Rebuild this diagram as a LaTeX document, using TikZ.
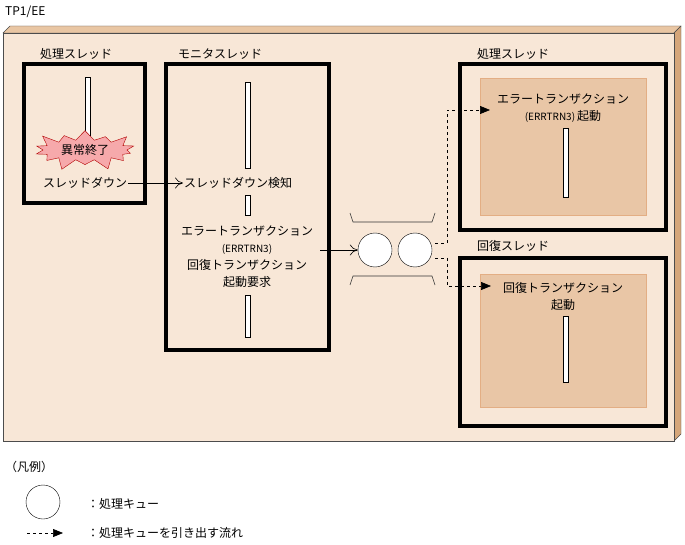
\documentclass[tikz,border=0pt]{standalone}
\usepackage{fontspec}
\setmainfont{Noto Sans CJK JP}
\usetikzlibrary{shapes.symbols,arrows.meta}
\definecolor{bgc}{HTML}{F8E7D7}
\definecolor{topc}{HTML}{E9C6A3}
\definecolor{sidec}{HTML}{D5A67A}
\definecolor{innerc}{HTML}{E9C6A6}
\definecolor{innerb}{HTML}{E3AE84}
\definecolor{burstc}{HTML}{F6A9AB}
\tikzset{
 thread/.style={draw=black,line width=3.2pt},
 bar/.style={draw=black,fill=white,line width=0.5pt},
 lbl/.style={font=\fontsize{12}{17}\selectfont,align=center,inner sep=1pt},
 openarr/.style={-{To[length=8pt,width=11pt]},line width=0.6pt},
 dasharr/.style={dashed,-{Triangle[length=10pt,width=8pt]},line width=0.7pt},
 queue/.style={circle,draw,fill=white,minimum size=34pt,inner sep=0pt}
}
\begin{document}
\begin{tikzpicture}[x=1pt,y=-1pt]
\useasboundingbox (0,0) rectangle (685,545);
\node[lbl,anchor=west] (tp) at (4,12) {TP1/EE};
% box
\draw[fill=topc,draw=black!70] (3,33)--(10,26)--(681,26)--(674,33)--cycle;
\draw[fill=sidec,draw=black!70] (674,33)--(681,26)--(681,434)--(674,441)--cycle;
\draw[fill=bgc,draw=black!70] (3,33) rectangle (674,441);
% thread boxes
\draw[thread] (24,64) rectangle (145,203);
\draw[thread] (166,64) rectangle (329,350);
\draw[thread] (460,64) rectangle (666,230);
\draw[thread] (460,258) rectangle (666,426);
\draw[fill=innerc,draw=innerb] (480,78) rectangle (646,215);
\draw[fill=innerc,draw=innerb] (480,274) rectangle (646,407);
\node[lbl] (t1) at (76,54) {処理スレッド};
\node[lbl] (t2) at (220,54) {モニタスレッド};
\node[lbl] (t3) at (513,54) {処理スレッド};
\node[lbl] (t4) at (513,246) {回復スレッド};
% bars
\draw[bar] (85,77) rectangle (90,135);
\draw[bar] (245,82) rectangle (250,168);
\draw[bar] (245,195) rectangle (250,215);
\draw[bar] (245,295) rectangle (250,337);
\draw[bar] (563,128) rectangle (568,197);
\draw[bar] (563,316) rectangle (568,382);
\node[starburst,starburst points=14,starburst point height=13pt,fill=burstc,draw=red!70!black,line width=0.4pt,minimum width=110pt,minimum height=46pt,inner sep=0pt] (burst) at (85,150) {};
\node[lbl] (ab) at (85,150) {異常終了};
\node[lbl] (down) at (85,183) {スレッドダウン};
\node[lbl,anchor=west] (det) at (183,183) {スレッドダウン検知};
\node[lbl] (req) at (247,257) {エラートランザクション\\{\fontsize{10}{17}\selectfont (ERRTRN3)}\\回復トランザクション\\起動要求};
\node[lbl] (err) at (563,108) {エラートランザクション\\{\fontsize{10}{17}\selectfont (ERRTRN3)}\,起動};
\node[lbl] (rec) at (563,296) {回復トランザクション\\起動};
% queue
\node[queue] (q1) at (375,250) {};
\node[queue] (q2) at (415,250) {};
\draw[line width=0.6pt,black!80] (350,213)--(353,222)--(432,222)--(435,213);
\draw[line width=0.6pt,black!80] (350,285)--(353,276)--(432,276)--(435,285);
\draw[openarr] (down.east) -- (det.west);
\coordinate (rq) at (320,250);
\draw[openarr] (rq) -- (q1.west);
\coordinate (d1) at (435,243);
\coordinate (d2) at (435,258);
\coordinate (e1) at (490,110);
\coordinate (e2) at (491,286);
\draw[dasharr] (d1) -- (447,243) |- (e1);
\draw[dasharr] (d2) -- (447,258) |- (e2);
% legend
\node[lbl,anchor=west] (leg) at (4,467) {（凡例）};
\node[queue] (lq) at (43,502) {};
\node[lbl,anchor=west] (lqt) at (86,504) {：処理キュー};
\coordinate (la) at (27,533);
\coordinate (lb) at (63,533);
\draw[dasharr] (la) -- (lb);
\node[lbl,anchor=west] (lat) at (86,533) {：処理キューを引き出す流れ};
\end{tikzpicture}
\end{document}
